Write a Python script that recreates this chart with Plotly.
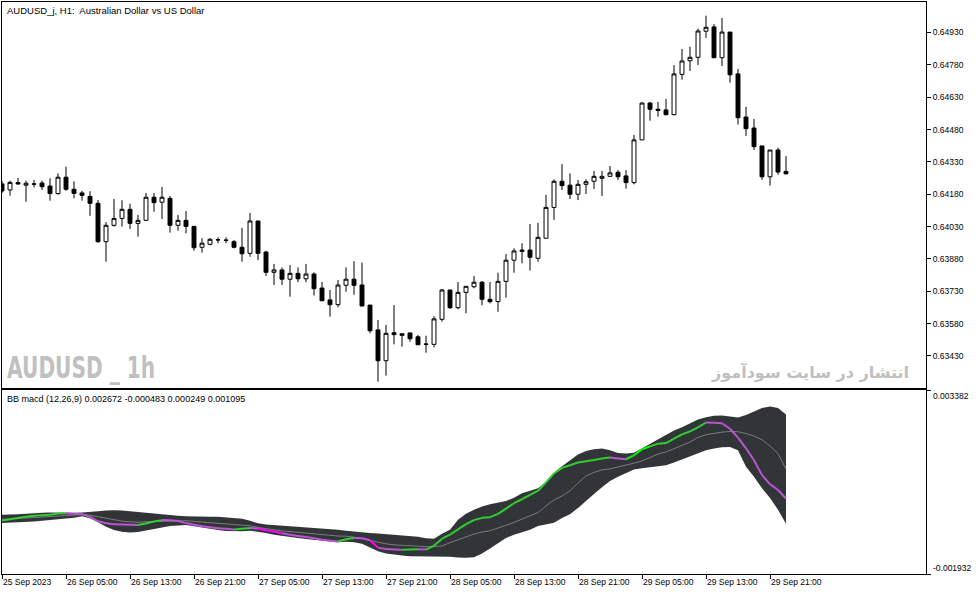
import plotly.graph_objects as go
import pandas as pd

# ---------------- data ----------------
times = pd.date_range("2023-09-25 21:00", periods=99, freq="h")
bar_index = list(range(len(times)))

open_ = [0.64228, 0.64200, 0.64234, 0.64222, 0.64228, 0.64232, 0.64218, 0.64183, 0.64259, 0.64203,
         0.64186, 0.64170, 0.64138, 0.63960, 0.64036, 0.64068, 0.64110, 0.64045, 0.64059, 0.64166,
         0.64143, 0.64161, 0.64036, 0.64059, 0.64031, 0.63934, 0.63948, 0.63968, 0.63966, 0.63960,
         0.63934, 0.63906, 0.64056, 0.63912, 0.63818, 0.63829, 0.63786, 0.63813, 0.63788, 0.63810,
         0.63745, 0.63690, 0.63668, 0.63758, 0.63786, 0.63759, 0.63666, 0.63551, 0.63408, 0.63538,
         0.63533, 0.63537, 0.63519, 0.63484, 0.63484, 0.63600, 0.63736, 0.63654, 0.63725, 0.63751,
         0.63772, 0.63693, 0.63682, 0.63776, 0.63874, 0.63915, 0.63921, 0.63883, 0.63976, 0.64119,
         0.64240, 0.64222, 0.64180, 0.64226, 0.64240, 0.64254, 0.64263, 0.64282, 0.64265, 0.64234,
         0.64432, 0.64603, 0.64574, 0.64571, 0.64549, 0.64736, 0.64799, 0.64815, 0.64936, 0.64956,
         0.64813, 0.64932, 0.64738, 0.64538, 0.64487, 0.64404, 0.64261, 0.64385, 0.64286]
high = [0.64241, 0.64243, 0.64255, 0.64243, 0.64246, 0.64243, 0.64254, 0.64277, 0.64308, 0.64240,
        0.64196, 0.64194, 0.64153, 0.64051, 0.64158, 0.64152, 0.64136, 0.64084, 0.64186, 0.64186,
        0.64214, 0.64172, 0.64084, 0.64102, 0.64031, 0.63976, 0.63977, 0.63980, 0.63980, 0.63968,
        0.64024, 0.64093, 0.64056, 0.63918, 0.63857, 0.63841, 0.63852, 0.63841, 0.63857, 0.63818,
        0.63773, 0.63736, 0.63782, 0.63841, 0.63870, 0.63863, 0.63666, 0.63597, 0.63574, 0.63666,
        0.63533, 0.63537, 0.63527, 0.63524, 0.63615, 0.63741, 0.63736, 0.63773, 0.63753, 0.63801,
        0.63778, 0.63773, 0.63816, 0.63903, 0.63929, 0.63953, 0.64042, 0.64047, 0.64177, 0.64249,
        0.64320, 0.64277, 0.64246, 0.64249, 0.64288, 0.64288, 0.64311, 0.64292, 0.64292, 0.64455,
        0.64606, 0.64608, 0.64608, 0.64622, 0.64779, 0.64854, 0.64864, 0.64948, 0.65008, 0.64969,
        0.64997, 0.64932, 0.64761, 0.64585, 0.64529, 0.64404, 0.64385, 0.64396, 0.64357]
low = [0.64186, 0.64173, 0.64223, 0.64145, 0.64212, 0.64200, 0.64150, 0.64178, 0.64196, 0.64161,
       0.64150, 0.64080, 0.63955, 0.63867, 0.64030, 0.64030, 0.64019, 0.63983, 0.64056, 0.64099,
       0.64065, 0.64002, 0.64011, 0.63999, 0.63918, 0.63909, 0.63943, 0.63953, 0.63953, 0.63929,
       0.63867, 0.63890, 0.63875, 0.63801, 0.63759, 0.63759, 0.63705, 0.63772, 0.63772, 0.63710,
       0.63686, 0.63612, 0.63656, 0.63728, 0.63714, 0.63659, 0.63535, 0.63311, 0.63339, 0.63484,
       0.63473, 0.63496, 0.63482, 0.63445, 0.63470, 0.63589, 0.63648, 0.63647, 0.63628, 0.63744,
       0.63665, 0.63674, 0.63635, 0.63700, 0.63816, 0.63860, 0.63826, 0.63867, 0.63976, 0.64061,
       0.64200, 0.64158, 0.64153, 0.64181, 0.64204, 0.64172, 0.64263, 0.64246, 0.64206, 0.64226,
       0.64432, 0.64521, 0.64540, 0.64546, 0.64546, 0.64711, 0.64752, 0.64779, 0.64905, 0.64813,
       0.64775, 0.64697, 0.64503, 0.64450, 0.64385, 0.64247, 0.64220, 0.64271, 0.64271]
close = [0.64195, 0.64235, 0.64228, 0.64231, 0.64227, 0.64215, 0.64183, 0.64259, 0.64203, 0.64184,
         0.64175, 0.64138, 0.63960, 0.64036, 0.64068, 0.64110, 0.64045, 0.64059, 0.64166, 0.64141,
         0.64166, 0.64036, 0.64059, 0.64031, 0.63932, 0.63953, 0.63971, 0.63969, 0.63967, 0.63934,
         0.63904, 0.64056, 0.63906, 0.63818, 0.63829, 0.63786, 0.63813, 0.63788, 0.63810, 0.63742,
         0.63686, 0.63668, 0.63759, 0.63786, 0.63758, 0.63662, 0.63547, 0.63408, 0.63535, 0.63529,
         0.63526, 0.63510, 0.63482, 0.63485, 0.63602, 0.63736, 0.63654, 0.63725, 0.63753, 0.63772,
         0.63693, 0.63682, 0.63776, 0.63874, 0.63917, 0.63921, 0.63888, 0.63980, 0.64119, 0.64240,
         0.64220, 0.64180, 0.64226, 0.64238, 0.64263, 0.64263, 0.64279, 0.64261, 0.64234, 0.64432,
         0.64603, 0.64574, 0.64569, 0.64549, 0.64738, 0.64798, 0.64815, 0.64937, 0.64954, 0.64813,
         0.64932, 0.64734, 0.64535, 0.64484, 0.64401, 0.64261, 0.64385, 0.64283, 0.64275]

bb_upper = [-0.000224, -0.000224, -0.000209, -0.000195, -0.000175, -0.000166, -0.000158, -0.000152, -0.000158, -0.000161,
            -0.000158, -0.000146, -0.000123, -0.000100, -0.000089, -0.000100, -0.000123, -0.000158, -0.000175, -0.000204,
            -0.000224, -0.000238, -0.000252, -0.000261, -0.000272, -0.000275, -0.000278, -0.000281, -0.000301, -0.000310,
            -0.000338, -0.000396, -0.000467, -0.000502, -0.000519, -0.000539, -0.000548, -0.000559, -0.000576, -0.000597,
            -0.000625, -0.000634, -0.000654, -0.000683, -0.000711, -0.000740, -0.000749, -0.000760, -0.000777, -0.000797,
            -0.000806, -0.000817, -0.000855, -0.000898, -0.000912, -0.000769, -0.000654, -0.000367, -0.000195, -0.000080,
            0.000014, 0.000083, 0.000129, 0.000178, 0.000272, 0.000399, 0.000473, 0.000542, 0.000723, 0.000989,
            0.001182, 0.001354, 0.001517, 0.001620, 0.001669, 0.001689, 0.001640, 0.001563, 0.001546, 0.001569,
            0.001698, 0.001833, 0.001976, 0.002091, 0.002214, 0.002309, 0.002415, 0.002530, 0.002596, 0.002636,
            0.002644, 0.002616, 0.002587, 0.002659, 0.002759, 0.002865, 0.002902, 0.002859, 0.002672]
bb_lower = [-0.000462, -0.000453, -0.000445, -0.000433, -0.000416, -0.000396, -0.000376, -0.000359, -0.000347, -0.000310,
            -0.000267, -0.000324, -0.000439, -0.000568, -0.000663, -0.000711, -0.000731, -0.000720, -0.000674, -0.000625,
            -0.000576, -0.000548, -0.000531, -0.000519, -0.000554, -0.000597, -0.000634, -0.000663, -0.000691, -0.000703,
            -0.000694, -0.000683, -0.000711, -0.000749, -0.000797, -0.000835, -0.000863, -0.000892, -0.000921, -0.000949,
            -0.000978, -0.001007, -0.001018, -0.000998, -0.001015, -0.001055, -0.001170, -0.001276, -0.001342, -0.001380,
            -0.001400, -0.001420, -0.001425, -0.001428, -0.001420, -0.001423, -0.001437, -0.001457, -0.001466, -0.001448,
            -0.001342, -0.001199, -0.001035, -0.000892, -0.000797, -0.000731, -0.000654, -0.000548, -0.000502, -0.000453,
            -0.000318, -0.000204, -0.000023, 0.000186, 0.000379, 0.000571, 0.000751, 0.000875, 0.000981, 0.001087,
            0.001124, 0.001153, 0.001182, 0.001210, 0.001288, 0.001374, 0.001468, 0.001563, 0.001640, 0.001689,
            0.001727, 0.001735, 0.001640, 0.001162, 0.000875, 0.000542, 0.000264, -0.000080, -0.000483]
macd = [-0.000387, -0.000353, -0.000315, -0.000281, -0.000252, -0.000238, -0.000224, -0.000186, -0.000181, -0.000195,
        -0.000204, -0.000281, -0.000410, -0.000467, -0.000496, -0.000505, -0.000510, -0.000519, -0.000476, -0.000416,
        -0.000376, -0.000381, -0.000404, -0.000462, -0.000510, -0.000554, -0.000585, -0.000611, -0.000625, -0.000648,
        -0.000625, -0.000605, -0.000619, -0.000668, -0.000706, -0.000754, -0.000797, -0.000832, -0.000863, -0.000901,
        -0.000941, -0.000969, -0.000992, -0.000926, -0.000892, -0.000898, -0.000955, -0.001170, -0.001207, -0.001228,
        -0.001233, -0.001228, -0.001219, -0.001228, -0.001113, -0.000912, -0.000797, -0.000645, -0.000490, -0.000376,
        -0.000310, -0.000290, -0.000195, -0.000043, 0.000112, 0.000227, 0.000350, 0.000473, 0.000714, 0.000972,
        0.001133, 0.001210, 0.001288, 0.001325, 0.001362, 0.001402, 0.001431, 0.001402, 0.001382, 0.001497,
        0.001669, 0.001755, 0.001833, 0.001850, 0.001976, 0.002099, 0.002185, 0.002300, 0.002443, 0.002435,
        0.002423, 0.002263, 0.002005, 0.001698, 0.001354, 0.000923, 0.000665, 0.000493, 0.000249]
bb_mid = [-0.000353, -0.000338, -0.000324, -0.000310, -0.000295, -0.000281, -0.000267, -0.000258, -0.000252, -0.000238,
          -0.000218, -0.000235, -0.000281, -0.000333, -0.000376, -0.000404, -0.000424, -0.000439, -0.000424, -0.000416,
          -0.000402, -0.000396, -0.000390, -0.000393, -0.000413, -0.000433, -0.000453, -0.000473, -0.000496, -0.000505,
          -0.000516, -0.000539, -0.000588, -0.000625, -0.000660, -0.000688, -0.000706, -0.000726, -0.000749, -0.000774,
          -0.000803, -0.000820, -0.000835, -0.000840, -0.000860, -0.000898, -0.000961, -0.001018, -0.001061, -0.001090,
          -0.001104, -0.001119, -0.001139, -0.001141, -0.001144, -0.001121, -0.001027, -0.000941, -0.000846, -0.000777,
          -0.000720, -0.000683, -0.000605, -0.000531, -0.000445, -0.000347, -0.000252, -0.000158, 0.000034, 0.000206,
          0.000321, 0.000473, 0.000694, 0.000903, 0.001001, 0.001076, 0.001104, 0.001153, 0.001210, 0.001268,
          0.001334, 0.001440, 0.001534, 0.001592, 0.001678, 0.001784, 0.001879, 0.002013, 0.002091, 0.002137,
          0.002165, 0.002185, 0.002177, 0.002128, 0.002051, 0.001947, 0.001764, 0.001546, 0.001095]

price_ticks = [0.63430, 0.63580, 0.63730, 0.63880, 0.64030, 0.64180, 0.64330, 0.64480, 0.64630, 0.64780, 0.64930]
time_tick_labels = ["25 Sep 2023", "26 Sep 05:00", "26 Sep 13:00", "26 Sep 21:00", "27 Sep 05:00",
                    "27 Sep 13:00", "27 Sep 21:00", "28 Sep 05:00", "28 Sep 13:00", "28 Sep 21:00",
                    "29 Sep 05:00", "29 Sep 13:00", "29 Sep 21:00"]
time_tick_index = [0, 8, 16, 24, 32, 40, 48, 56, 64, 72, 80, 88, 96]
ind_max, ind_min = 0.003382, -0.001932
strong_down_segments = [32, 33, 34, 46]
strong_up_segments = [79, 80]

# ---------------- layout geometry ----------------
W, H = 979, 595
ML, MR, MT, MB = 2, 53, 2, 21
PW, PH = W - ML - MR, H - MT - MB
def px_y(py):
    return (H - MB - py) / PH
def px_x(px):
    return (px - ML) / PW

FONT = "Liberation Sans, Arial, sans-serif"

fig = go.Figure()
fig.add_trace(go.Candlestick(
    x=bar_index, open=open_, high=high, low=low, close=close,
    increasing=dict(line=dict(color="black", width=1), fillcolor="white"),
    decreasing=dict(line=dict(color="black", width=1), fillcolor="black"),
    whiskerwidth=0, xaxis="x", yaxis="y", showlegend=False, hoverinfo="skip"))

band_col = "#323538"
fig.add_trace(go.Scatter(x=bar_index, y=bb_upper, mode="lines", line=dict(width=0, color=band_col),
                         xaxis="x2", yaxis="y2", showlegend=False, hoverinfo="skip"))
fig.add_trace(go.Scatter(x=bar_index, y=bb_lower, mode="lines", line=dict(width=0, color=band_col),
                         fill="tonexty", fillcolor=band_col,
                         xaxis="x2", yaxis="y2", showlegend=False, hoverinfo="skip"))
fig.add_trace(go.Scatter(x=bar_index, y=bb_mid, mode="lines", line=dict(width=1, color="#7a7a7a"),
                         xaxis="x2", yaxis="y2", showlegend=False, hoverinfo="skip"))

colors = {"up": "#32CD32", "down": "#BA55D3", "sup": "#00FF00", "sdown": "#FF00FF"}
segs = {k: ([], []) for k in colors}
for i in range(len(macd) - 1):
    if i in strong_down_segments:
        key = "sdown"
    elif i in strong_up_segments:
        key = "sup"
    elif macd[i + 1] >= macd[i]:
        key = "up"
    else:
        key = "down"
    xs, ys = segs[key]
    xs += [bar_index[i], bar_index[i + 1], None]
    ys += [macd[i], macd[i + 1], None]
for key, (xs, ys) in segs.items():
    fig.add_trace(go.Scatter(x=xs, y=ys, mode="lines", line=dict(width=2, color=colors[key]),
                             xaxis="x2", yaxis="y2", showlegend=False, hoverinfo="skip",
                             connectgaps=False))

main_bottom = px_y(387.5)
lower_top = px_y(390)
xr = [0, PW / 8.0]
p_top = 0.650807 - 0.00004637 * 2
p_bot = 0.650807 - 0.00004637 * 387.5

axis_common = dict(showline=True, mirror=True, linecolor="black", linewidth=1,
                   showgrid=False, zeroline=False)
fig.update_layout(
    width=W, height=H, margin=dict(l=ML, r=MR, t=MT, b=MB),
    paper_bgcolor="white", plot_bgcolor="white", showlegend=False,
    font=dict(family=FONT, size=9, color="black"),
    xaxis=dict(domain=[0, 1], range=xr, anchor="y", showticklabels=False, ticks="",
               rangeslider=dict(visible=False), **axis_common),
    yaxis=dict(domain=[main_bottom, 1], range=[p_bot, p_top], side="right", anchor="x",
               tickvals=price_ticks, tickformat=".5f", ticks="outside", ticklen=4, tickcolor="black",
               tickfont=dict(size=8.5, family=FONT), **axis_common),
    xaxis2=dict(domain=[0, 1], range=xr, anchor="y2", matches="x",
                tickvals=time_tick_index, ticktext=time_tick_labels, ticks="outside", ticklen=4,
                tickcolor="black", ticklabelposition="outside right",
                tickfont=dict(size=8.5, family=FONT), **axis_common),
    yaxis2=dict(domain=[0, lower_top], range=[ind_min, ind_max], side="right", anchor="x2",
                tickvals=[ind_min, ind_max], showticklabels=False, ticks="outside", ticklen=4,
                tickcolor="black", **axis_common),
)

ann = []
ann.append(dict(text="AUDUSD_j, H1:  Australian Dollar vs US Dollar", x=px_x(5), y=px_y(3),
                xref="paper", yref="paper", xanchor="left", yanchor="top", showarrow=False,
                font=dict(size=9.5, family=FONT, color="black")))
ann.append(dict(text="BB macd (12,26,9) 0.002672 -0.000483 0.000249 0.001095", x=px_x(5), y=px_y(392),
                xref="paper", yref="paper", xanchor="left", yanchor="top", showarrow=False,
                font=dict(size=9, family=FONT, color="black")))
ann.append(dict(text="<b>AUDUSD _ 1h</b>", x=px_x(5), y=px_y(387),
                xref="paper", yref="paper", xanchor="left", yanchor="bottom", showarrow=False,
                font=dict(size=31, family="DejaVu Sans, sans-serif", color="#c0c0c0")))
ann.append(dict(text="<b>انتشار در سایت سودآموز</b>", x=px_x(911), y=px_y(384),
                xref="paper", yref="paper", xanchor="right", yanchor="bottom", showarrow=False,
                font=dict(size=16, family="DejaVu Sans, sans-serif", color="#c0c0c0")))
ann.append(dict(text=f"{ind_max:.6f}", x=px_x(931), y=px_y(396),
                xref="paper", yref="paper", xanchor="left", yanchor="middle", showarrow=False,
                font=dict(size=8.5, family=FONT, color="black")))
ann.append(dict(text=f"{ind_min:.6f}", x=px_x(931), y=px_y(568),
                xref="paper", yref="paper", xanchor="left", yanchor="middle", showarrow=False,
                font=dict(size=8.5, family=FONT, color="black")))
fig.update_layout(annotations=ann)

post = """
document.body.style.margin='0';
document.body.style.overflow='hidden';
function narrowWatermark(){
  document.querySelectorAll('text.annotation-text').forEach(function(el){
    if (el.textContent === 'AUDUSD _ 1h') {
      el.style.transformBox = 'fill-box';
      el.style.transformOrigin = '0% 100%';
      el.style.transform = 'scaleX(0.65)';
    }
  });
}
narrowWatermark();
setTimeout(narrowWatermark, 50);
"""
fig.write_html("out.html", post_script=post, config={"displayModeBar": False})
